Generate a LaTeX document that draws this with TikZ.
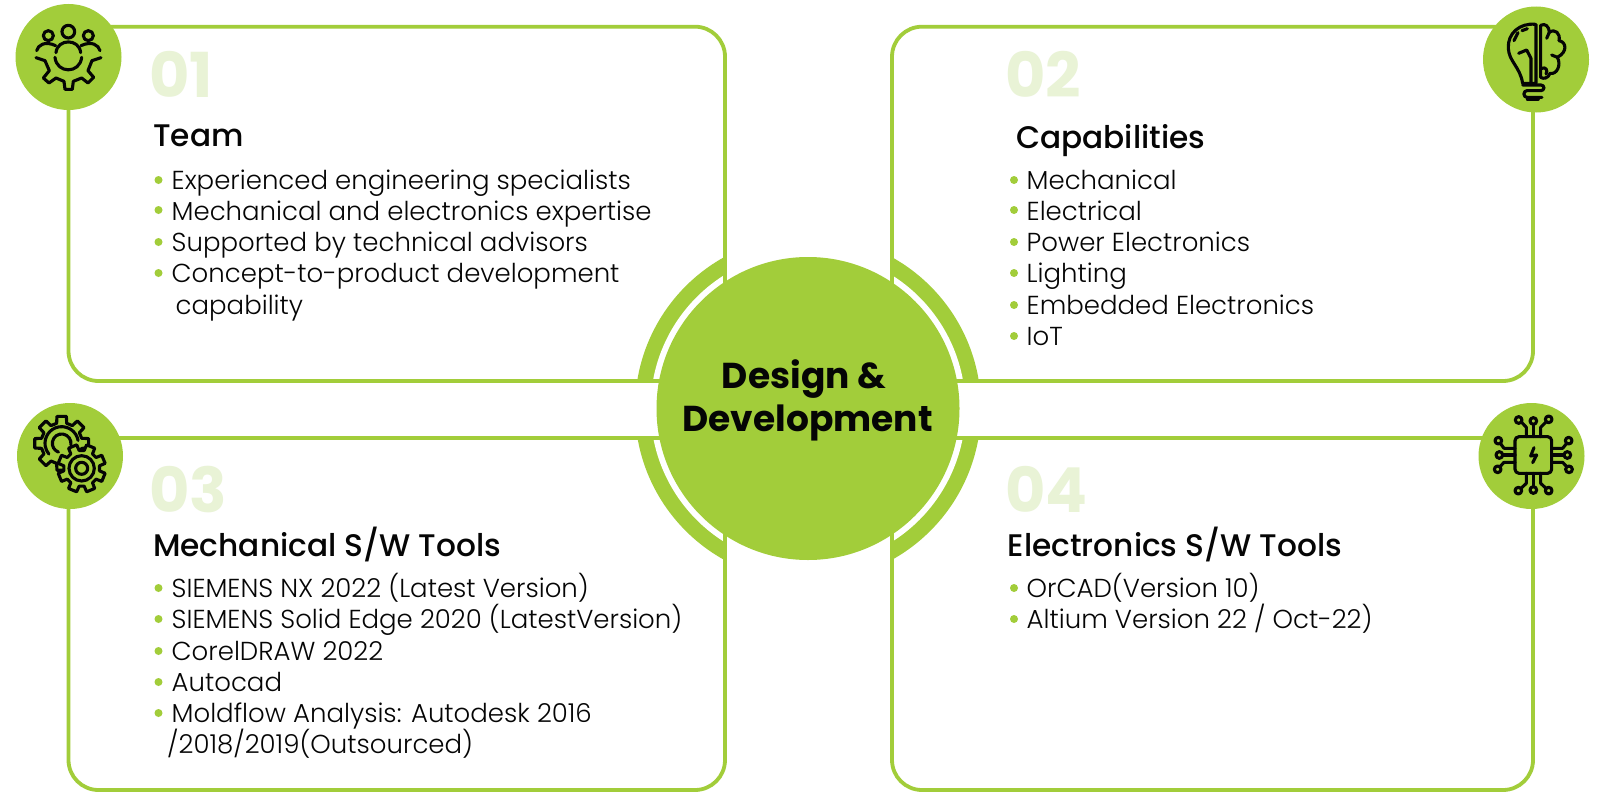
\documentclass[tikz,border=0pt]{standalone}
\usepackage{fontspec}
\setmainfont{Poppins}
\newfontfamily\pbold{Poppins Bold}
\newfontfamily\pmed{Poppins Medium}
\newfontfamily\plight{Poppins Light}
\definecolor{lime}{HTML}{A2CD3A}
\definecolor{pale}{HTML}{E9F3D6}
\definecolor{ink}{HTML}{050505}
\tikzset{
  cardfill/.style={fill=white,draw=none,rounded corners=30pt},
  card/.style={draw=lime,line width=3.8pt,rounded corners=30pt},
  badge/.style={fill=lime,draw=none},
  bodytext/.style={anchor=base west,inner sep=0pt,text=ink,font=\plight\fontsize{26}{30}\selectfont},
  headtext/.style={anchor=base west,inner sep=0pt,text=ink,font=\pmed\fontsize{31.2}{36}\selectfont},
  numtext/.style={anchor=base west,inner sep=0pt,text=pale,font=\pbold\fontsize{62}{66}\selectfont},
  dot/.style={circle,fill=lime,draw=none,inner sep=0pt,minimum size=8pt},
  icon/.style={draw=ink,line width=3.1pt,line cap=round,line join=round},
  zoomgrid/.style={x=0.3333pt,y=-0.3333pt},
}
\begin{document}
\begin{tikzpicture}[x=1pt,y=-1pt]
\useasboundingbox (0,0) rectangle (1600,800);
\fill[white] (0,0) rectangle (1600,800);

% ring pieces around the hub
\begin{scope}
  \clip (0,0) rectangle (725,381) (0,438) rectangle (725,800)
        (892,0) rectangle (1600,381) (892,438) rectangle (1600,800);
  \fill[lime] (808,408.5) circle[radius=173pt];
\end{scope}
\fill[white] (808,408.5) circle[radius=157.5pt];

% cards
\draw[card] (68.5,26.7) rectangle (725,381);
\draw[card] (892,26.7) rectangle (1533,381);
\draw[card] (68.5,438) rectangle (725,790);
\draw[card] (892,438) rectangle (1533,790);

\node[circle,fill=lime,minimum size=303pt,inner sep=0pt] (hub) at (808,408.5) {};
\node[anchor=base,inner sep=0pt,text=ink,font=\pbold\fontsize{36}{40}\selectfont] (hubA) at (804,388) {Design \&};
\node[anchor=base,inner sep=0pt,text=ink,font=\pbold\fontsize{36}{40}\selectfont] (hubB) at (807.5,431.5) {Development};

% badges
\fill[badge] (68.5,57) circle[radius=53pt];
\fill[badge] (1536,59.5) circle[radius=53pt];
\fill[badge] (70,456) circle[radius=53pt];
\fill[badge] (1531.5,456) circle[radius=53pt];

% icon: team gear
\begin{scope}[zoomgrid]
  \draw[icon] (145,107) circle[radius=15];
  \draw[icon] (205,95) circle[radius=19];
  \draw[icon] (265,107) circle[radius=15];
  \draw[icon] (110,152) .. controls (114,135) and (135,122) .. (167,137);
  \draw[icon] (243,137) .. controls (275,122) and (296,135) .. (300,152);
  \draw[icon] (168,158) .. controls (172,115) and (238,115) .. (242,158);
  \draw[icon] (165,172) .. controls (170,222) and (240,222) .. (245,172);
  \draw[icon] (108,173) -- (135,182) -- (148,212) -- (130,234) -- (147,249) -- (168,234)
     -- (192,244) -- (195,268) -- (217,268) -- (220,244) -- (245,234) -- (264,249) -- (281,232)
     -- (264,212) -- (276,182) -- (303,173);
\end{scope}

% icon: bulb and brain
\begin{scope}[shift={(1420,0)},zoomgrid]
  \draw[icon] (346,73) .. controls (300,68) and (262,100) .. (265,145)
     .. controls (267,185) and (300,200) .. (308,250) -- (348,250) -- (348,73);
  \draw[icon] (296,160) -- (320,150) -- (333,175) -- (333,248);
  \draw[icon] (282,122) -- (294,98);
  \draw[icon] (306,92) -- (322,86);
  \draw[icon,rounded corners=3pt] (308,255) -- (372,255) -- (372,272) -- (312,272) -- (312,292) -- (366,292);
  \draw[icon] (322,297) -- (355,297);
  \draw[icon] (362,76) .. controls (375,68) and (388,80) .. (388,97)
     .. controls (405,85) and (422,100) .. (417,122)
     .. controls (438,125) and (445,155) .. (412,172)
     .. controls (425,195) and (410,225) .. (390,220)
     .. controls (385,235) and (370,238) .. (362,232) -- cycle;
  \draw[icon] (388,97) -- (380,115);
  \draw[icon] (366,205) .. controls (376,200) and (385,210) .. (378,222);
  \draw[icon] (412,172) -- (395,165);
\end{scope}

% icon: gears
\begin{scope}[shift={(0,380)},zoomgrid]
  \begin{scope}[shift={(185,190)}]
    \draw[icon,fill=lime] \foreach \k [count=\n] in {0,45,...,315}{
       \ifnum\n=1 (\k-14:62) \else -- (\k-14:62) \fi
       -- (\k-10:82) -- (\k+10:82) -- (\k+14:62) -- (\k+31:62) } -- cycle;
    \draw[icon] (-10:50) arc[start angle=-10,end angle=-220,radius=50];
    \draw[icon] (10:28) arc[start angle=10,end angle=-250,radius=28];
  \end{scope}
  \begin{scope}[shift={(245,265)}]
    \draw[icon,fill=lime] \foreach \k [count=\n] in {0,45,...,315}{
       \ifnum\n=1 (\k+8:54) \else -- (\k+8:54) \fi
       -- (\k+12:72) -- (\k+33:72) -- (\k+37:54) } -- cycle;
    \draw[icon] (0,0) circle[radius=38];
    \draw[icon] (0,0) circle[radius=18];
  \end{scope}
\end{scope}

% icon: chip
\begin{scope}[shift={(1420,380)},zoomgrid]
  \draw[icon,rounded corners=4pt] (285,170) rectangle (395,280);
  \draw[icon] (342,203) -- (332,228) -- (350,225) -- (338,248);
  \draw[icon] (340,170) -- (340,133);
  \draw[icon] (340,123) circle[radius=10];
  \draw[icon] (319,170) -- (319,142) -- (305,127);
  \draw[icon] (296,120) circle[radius=10];
  \draw[icon] (362,170) -- (362,142) -- (378,126);
  \draw[icon] (386,118) circle[radius=10];
  \draw[icon] (340,280) -- (340,320);
  \draw[icon] (340,330) circle[radius=10];
  \draw[icon] (319,280) -- (319,310) -- (303,325);
  \draw[icon] (295,332) circle[radius=10];
  \draw[icon] (362,280) -- (362,310) -- (378,325);
  \draw[icon] (386,332) circle[radius=10];
  \draw[icon] (285,205) -- (252,205) -- (241,190);
  \draw[icon] (235,182) circle[radius=10];
  \draw[icon] (285,225) -- (248,225);
  \draw[icon] (238,225) circle[radius=10];
  \draw[icon] (285,247) -- (252,247) -- (240,260);
  \draw[icon] (233,268) circle[radius=10];
  \draw[icon] (395,205) -- (428,205) -- (440,190);
  \draw[icon] (446,182) circle[radius=10];
  \draw[icon] (395,225) -- (432,225);
  \draw[icon] (442,225) circle[radius=10];
  \draw[icon] (395,247) -- (428,247) -- (440,260);
  \draw[icon] (447,268) circle[radius=10];
\end{scope}

% numbers
\node[numtext] (n1) at (149,97) {01};
\node[numtext] (n2) at (1005,97) {02};
\node[numtext] (n3) at (149,512) {03};
\node[numtext] (n4) at (1005,512) {04};

% headings
\node[headtext] (h1) at (153,146) {Team};
\node[headtext] (h2) at (1016,148) {Capabilities};
\node[headtext] (h3) at (153,556) {Mechanical S/W Tools};
\node[headtext] (h4) at (1007.5,556) {Electronics S/W Tools};

% card 1
\foreach \y [count=\i] in {180,210,242,273}{\node[dot] (da\i) at (158.5,\y) {};}
\node[bodytext] (a1) at (171.5,189) {Experienced engineering specialists};
\node[bodytext] (a2) at (171.5,220) {Mechanical and electronics expertise};
\node[bodytext] (a3) at (171.5,251) {Supported by technical advisors};
\node[bodytext] (a4) at (171.5,282) {Concept-to-product development};
\node[bodytext] (a5) at (175.5,314) {capability};

% card 2
\foreach \y [count=\i] in {180,210,242,273,305,336}{\node[dot] (db\i) at (1014,\y) {};}
\node[bodytext] (b1) at (1026.5,189) {Mechanical};
\node[bodytext] (b2) at (1026.5,220) {Electrical};
\node[bodytext] (b3) at (1026.5,251) {Power Electronics};
\node[bodytext] (b4) at (1026.5,282) {Lighting};
\node[bodytext] (b5) at (1026.5,314) {Embedded Electronics};
\node[bodytext] (b6) at (1026.5,345) {IoT};

% card 3
\foreach \y [count=\i] in {588,619,651,682,713}{\node[dot] (dc\i) at (158.5,\y) {};}
\node[bodytext] (c1) at (171.5,597) {SIEMENS NX 2022 (Latest Version)};
\node[bodytext] (c2) at (171.5,628) {SIEMENS Solid Edge 2020 (LatestVersion)};
\node[bodytext] (c3) at (171.5,660) {CorelDRAW 2022};
\node[bodytext] (c4) at (171.5,691) {Autocad};
\node[bodytext] (c5) at (171.5,722) {Moldflow Analysis: Autodesk 2016};
\node[bodytext] (c6) at (167,753) {/2018/2019(Outsourced)};

% card 4
\foreach \y [count=\i] in {588,619}{\node[dot] (dd\i) at (1014,\y) {};}
\node[bodytext] (d1) at (1026.5,597) {OrCAD(Version 10)};
\node[bodytext] (d2) at (1026.5,628) {Altium Version 22 / Oct-22)};
\end{tikzpicture}
\end{document}
